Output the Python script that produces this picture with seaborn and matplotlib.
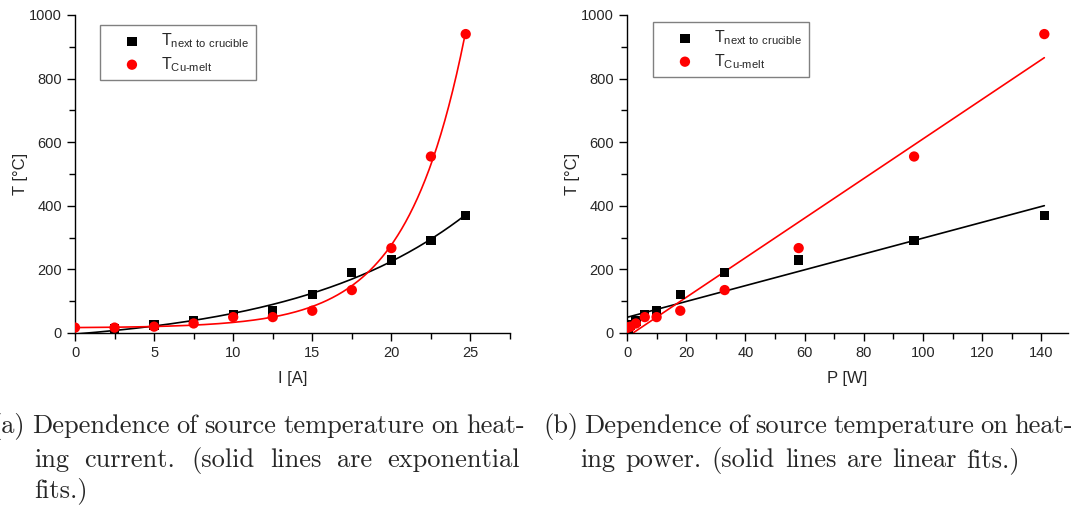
import numpy as np
import pandas as pd
import matplotlib
matplotlib.use("Agg")
import matplotlib.pyplot as plt
from matplotlib.ticker import MultipleLocator
import seaborn as sns

# ---------------- data ----------------
current_black = [2.5, 5, 7.5, 10, 12.5, 15, 17.5, 20, 22.5, 24.7]
temp_black = [15, 25, 38, 58, 70, 122, 190, 230, 290, 370]
current_red = [0, 2.5, 5, 7.5, 10, 12.5, 15, 17.5, 20, 22.5, 24.7]
temp_red = [17, 17, 20, 30, 50, 50, 70, 135, 267, 555, 940]

power_black = [0.3, 1.2, 3, 6, 10, 18, 33, 58, 97, 141]
power_red = [0.0, 0.3, 1.2, 3, 6, 10, 18, 33, 58, 97, 141]

label_black = r"T$_{\mathregular{next\ to\ crucible}}$"
label_red = r"T$_{\mathregular{Cu\text{-}melt}}$"

caption_a = ["(a) Dependence of source temperature on heat-",
             "ing current.  (solid lines are exponential",
             "fits.)"]
caption_b = ["(b) Dependence of source temperature on heat-",
             "ing power. (solid lines are linear fits.)"]

# ---------------- fits ----------------
def exp_fit(x, y):
    x = np.asarray(x, float); y = np.asarray(y, float)
    best = None
    for t in np.linspace(1, 40, 4000):
        M = np.column_stack([np.ones_like(x), np.exp(x / t)])
        coef, *_ = np.linalg.lstsq(M, y, rcond=None)
        r = np.sum((M @ coef - y) ** 2)
        if best is None or r < best[0]:
            best = (r, coef, t)
    _, (y0, a), t = best
    return lambda xx: y0 + a * np.exp(np.asarray(xx) / t)

fb = exp_fit(current_black, temp_black)
fr = exp_fit(current_red, temp_red)
lb = np.polyfit(power_black, temp_black, 1)
lr = np.polyfit(power_red, temp_red, 1)

sns.set_theme(style="white")
plt.rcParams["font.family"] = ["Liberation Sans", "DejaVu Sans"]
plt.rcParams["mathtext.fontset"] = "custom"
plt.rcParams["mathtext.rm"] = "Liberation Sans"

W, H = 1071, 507
fig = plt.figure(figsize=(W / 100, H / 100), dpi=100)
axA = fig.add_axes([75 / W, 1 - 333 / H, 435 / W, 318 / H])
axB = fig.add_axes([627 / W, 1 - 333 / H, 441 / W, 318 / H])

def style(ax, xmax, xmajor, xminor):
    ax.set_facecolor("white")
    ax.set_xlim(0, xmax)
    ax.set_ylim(0, 1000)
    for s in ["top", "right"]:
        ax.spines[s].set_visible(False)
    for s in ["left", "bottom"]:
        ax.spines[s].set_color("black")
        ax.spines[s].set_linewidth(1.0)
    ax.xaxis.set_major_locator(MultipleLocator(xmajor))
    ax.xaxis.set_minor_locator(MultipleLocator(xminor))
    ax.yaxis.set_major_locator(MultipleLocator(200))
    ax.yaxis.set_minor_locator(MultipleLocator(100))
    ax.tick_params(which="both", direction="out", length=6, width=1,
                   color="black", labelsize=10.5, bottom=True, left=True)
    ax.tick_params(which="minor", length=4)
    ax.set_ylabel("T [°C]", fontsize=12, labelpad=1)

# ----- panel (a) -----
xx = np.linspace(0, 24.7, 300)
dfa_fit = pd.DataFrame({"x": np.r_[xx, xx],
                        "y": np.r_[fb(xx), fr(xx)],
                        "s": ["b"] * len(xx) + ["r"] * len(xx)})
sns.lineplot(data=dfa_fit, x="x", y="y", hue="s", palette={"b": "black", "r": "#ff0000"},
             ax=axA, legend=False, linewidth=1.2, sort=False)
sns.scatterplot(x=current_black, y=temp_black, marker="s", color="black", s=45,
                edgecolor="none", ax=axA, label=label_black, zorder=3)
sns.scatterplot(x=current_red, y=temp_red, marker="o", color="#ff0000", s=55,
                edgecolor="none", ax=axA, label=label_red, zorder=4)
style(axA, 27.5, 5, 2.5)
axA.set_xlabel("I [A]", fontsize=12, labelpad=8)

# ----- panel (b) -----
px = np.array([0, 141.0])
sns.lineplot(x=px, y=np.polyval(lb, px), color="black", ax=axB, linewidth=1.2)
sns.lineplot(x=px, y=np.polyval(lr, px), color="#ff0000", ax=axB, linewidth=1.2)
sns.scatterplot(x=power_black, y=temp_black, marker="s", color="black", s=45,
                edgecolor="none", ax=axB, label=label_black, zorder=3)
sns.scatterplot(x=power_red, y=temp_red, marker="o", color="#ff0000", s=55,
                edgecolor="none", ax=axB, label=label_red, zorder=4)
style(axB, 149, 20, 10)
axB.set_xlabel("P [W]", fontsize=12, labelpad=8)

for ax, anchor in [(axA, (25 / 435, 1 - 10 / 318)), (axB, (26 / 441, 1 - 7 / 318))]:
    leg = ax.legend(loc="upper left", bbox_to_anchor=anchor, fontsize=11.5,
                    frameon=True, fancybox=False, framealpha=1, edgecolor="#808080",
                    borderpad=0.4, labelspacing=0.3, handletextpad=0.25,
                    handlelength=3.2, borderaxespad=0)
    leg.get_frame().set_linewidth(1.0)

# ----- captions (justified like the LaTeX original) -----
renderer = fig.canvas.get_renderer()
cap = dict(family="cmr10", fontsize=19, va="baseline", ha="left")

def put_line(text, x0, x1, ybase, justify=True):
    words = text.split()
    objs = [fig.text(0, 1 - ybase / H, w, **cap) for w in words]
    widths = [o.get_window_extent(renderer).width for o in objs]
    t1 = fig.text(0, 0, "a a", **cap)
    t2 = fig.text(0, 0, "a", **cap)
    sw = t1.get_window_extent(renderer).width - 2 * t2.get_window_extent(renderer).width
    t1.remove(); t2.remove()
    gap = (x1 - x0 - sum(widths)) / (len(words) - 1) if (justify and len(words) > 1) else sw
    x = x0
    for o, w in zip(objs, widths):
        o.set_x(x / W)
        x += w + gap

base = [433, 467, 497]
put_line(caption_a[0], -9, 525, base[0])
put_line(caption_a[1], 34, 520, base[1])
put_line(caption_a[2], 34, 0, base[2], justify=False)
put_line(caption_b[0], 543, 1073, base[0])
put_line(caption_b[1], 580, 1020, base[1])

fig.savefig("out.png", dpi=100, facecolor="white")
